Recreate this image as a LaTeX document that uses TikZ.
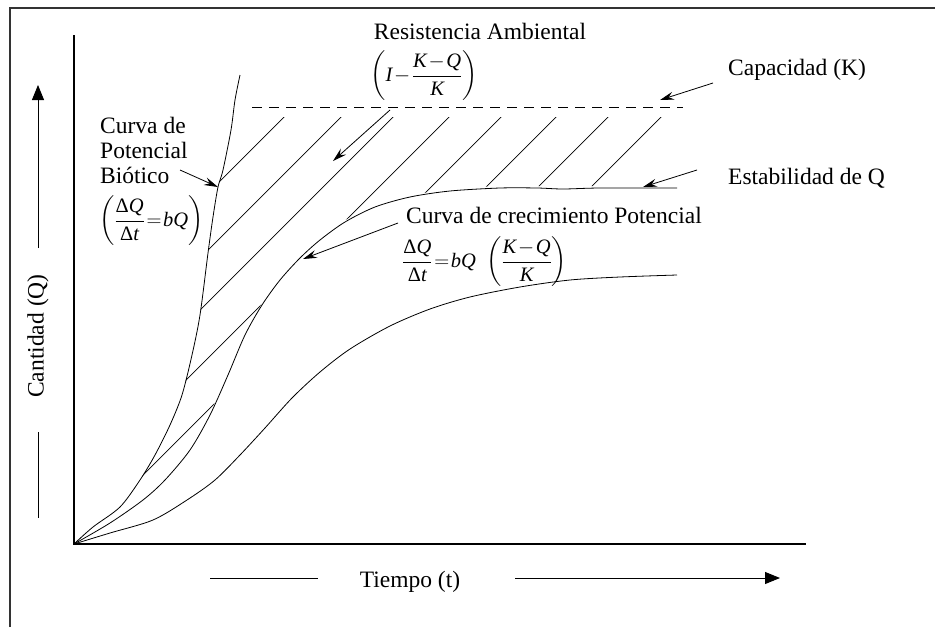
\documentclass[tikz,border=0pt]{standalone}
\usepackage{amsmath}
\usepackage{fontspec}
\setmainfont{Liberation Serif}
\usetikzlibrary{arrows.meta}
\newcommand{\vi}[1]{\textit{#1}}
\newcommand{\dl}{\textup{Δ}}
\newcommand{\fml}[1]{{\fontsize{20.5}{24}\selectfont$\medmuskip=1.5mu\thickmuskip=1.5mu\thinmuskip=1mu #1$}}
\begin{document}
\begin{tikzpicture}[x=1pt,y=-1pt,
  txt/.style={inner sep=0pt,font=\fontsize{23.5}{27}\selectfont},
  crv/.style={line width=0.8pt,line join=round},
  hatch/.style={line width=0.7pt},
  axis/.style={line width=1.1pt},
  lblarrow/.style={line width=0.8pt,-{Stealth[length=14pt,width=8pt,inset=5pt]}},
  bigarrow/.style={line width=0.9pt,-{Triangle[length=15pt,width=12pt]}}]
\useasboundingbox (0,0) rectangle (935,627);
% frame
\draw[line width=1.4pt,black!80] (10,627) -- (10,8) -- (935,8);
% axes
\coordinate (O) at (74,544);
\coordinate (ytop) at (74,35);
\coordinate (xend) at (806,544);
\draw[axis] (ytop) -- (O) -- (xend);
% hatch region
\begin{scope}
\clip (74,544) -- (93,527) -- (120,507) -- (140,480) -- (155,455) -- (170,425) -- (182,395) -- (192,355) -- (200,315) -- (208,253) -- (213,217) -- (218,187) -- (223,170) -- (230,135) -- (232,117) -- (682,117) -- (682,186)
 -- (600,186) -- (563,187) -- (537,186) -- (468,187) -- (450,189) -- (410,195) -- (375,205) -- (345,220) -- (320,238) -- (300,256) -- (280,278) -- (262,303) -- (245,333) -- (228,373) -- (210,413) -- (190,448) -- (165,478) -- (143,498) -- (110,521) -- cycle;
\foreach \c in {401,458,510,566,618,673,725,778}
  \draw[hatch] (\c-90,90) -- (\c-560,560);
\end{scope}
% dashed capacity line
\coordinate (kl) at (252,107);
\coordinate (kr) at (683,107);
\draw[line width=0.8pt,dash pattern=on 10pt off 7pt] (kl) -- (kr);
% curves
\draw[crv] plot[smooth,tension=0.5] coordinates {(74,544) (93,527) (120,507) (140,480) (155,455) (170,425) (182,395) (192,355) (200,315) (208,253) (213,217) (218,187) (223,170) (231,130) (235,100) (240,75)};
\draw[crv] plot[smooth,tension=0.5] coordinates {(74,544) (110,523) (143,500) (165,480) (190,450) (210,415) (228,375) (245,335) (262,305) (280,280) (300,258) (320,240) (345,222) (375,207) (410,197) (450,191) (500,188) (537,188) (563,189) (600,188) (677,188)};
\draw[crv] plot[smooth,tension=0.5] coordinates {(74,544) (110,533) (153,520) (187,500) (215,480) (240,455) (265,428) (292,398) (320,372) (350,349) (390,326) (430,309) (470,297) (520,287) (570,280) (620,277) (677,275)};
% labels
\node[txt] (res) at (480,31) {Resistencia Ambiental};
\node[txt] (resf) at (424,76) {\fml{\left(\vi{I} - \dfrac{\vi{K}-\vi{Q}}{\vi{K}}\right)}};
\node[txt,anchor=west] (cap) at (728,70) {Capacidad (K)};
\node[txt,anchor=west] (est) at (728,178) {Estabilidad de Q};
\node[txt,anchor=base west] (bio1) at (100,133) {Curva de};
\node[txt,anchor=base west] (bio2) at (100,158) {Potencial};
\node[txt,anchor=base west] (bio3) at (100,183) {Biótico};
\node[txt,anchor=west] (biof) at (99,221) {\fml{\left(\dfrac{\dl\vi{Q}}{\dl\vi{t}}=\vi{b}\vi{Q}\right)}};
\node[txt,anchor=west] (log) at (406,215) {Curva de crecimiento Potencial};
\node[txt,anchor=west] (logf) at (402,262) {\fml{\dfrac{\dl\vi{Q}}{\dl\vi{t}}=\vi{b}\vi{Q}\hspace{9pt}\left(\dfrac{\vi{K}-\vi{Q}}{\vi{K}}\right)}};
\node[txt,rotate=90] (qlab) at (38,336) {Cantidad (Q)};
\node[txt] (tlab) at (410,582) {Tiempo (t)};
% label arrows
\coordinate (a1s) at (180,170); \coordinate (a1e) at (218,187);
\draw[lblarrow] (a1s) -- (a1e);
\coordinate (a2s) at (390,110); \coordinate (a2e) at (333,161);
\draw[lblarrow] (a2s) -- (a2e);
\coordinate (a3s) at (398,223); \coordinate (a3e) at (303,259);
\draw[lblarrow] (a3s) -- (a3e);
\coordinate (a4s) at (713,83); \coordinate (a4e) at (660,100);
\draw[lblarrow] (a4s) -- (a4e);
\coordinate (a5s) at (697,170); \coordinate (a5e) at (643,187);
\draw[lblarrow] (a5s) -- (a5e);
% axis direction arrows
\coordinate (v1) at (38,248); \coordinate (v2) at (38,85);
\coordinate (v3) at (38,432); \coordinate (v4) at (38,518);
\draw[bigarrow] (v1) -- (v2);
\draw[line width=0.9pt] (v3) -- (v4);
\coordinate (h1) at (210,578); \coordinate (h2) at (318,578);
\coordinate (h3) at (515,578); \coordinate (h4) at (780,578);
\draw[line width=0.9pt] (h1) -- (h2);
\draw[bigarrow] (h3) -- (h4);
\end{tikzpicture}
\end{document}
